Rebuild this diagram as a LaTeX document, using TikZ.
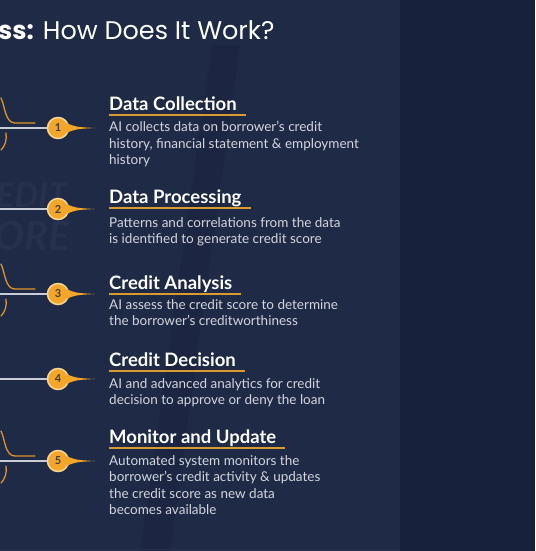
\documentclass[tikz,border=0pt]{standalone}
\usepackage{fontspec}
\setmainfont{Lato}
\newfontfamily\titlefont{Poppins}
\usetikzlibrary{calc}
\definecolor{navyleft}{HTML}{1F2A46}
\definecolor{navyright}{HTML}{18213C}
\definecolor{navyshade}{HTML}{1A2440}
\definecolor{navyfaint}{HTML}{27314E}
\definecolor{stepgold}{HTML}{F4A62A}
\definecolor{ringgold}{HTML}{FAD690}
\definecolor{rulegold}{HTML}{D99A30}
\definecolor{wireline}{HTML}{C9CDD8}
\definecolor{bodygray}{HTML}{D3D6DE}

\begin{document}
\begin{tikzpicture}[x=1pt, y=-1pt,
  marker/.style={circle, fill=stepgold, draw=ringgold, line width=1.5pt, minimum size=21pt, inner sep=0pt, text=black!75, font=\fontsize{11}{11}\selectfont\bfseries},
  heading/.style={anchor=base west, inner sep=0pt, text=white, font=\fontsize{18.5}{20}\selectfont\bfseries},
  body/.style={anchor=north west, inner sep=0pt, align=left, text=bodygray, font=\fontsize{13.5}{16.5}\selectfont, execute at begin node=\strut},
  wave/.style={draw=stepgold!90!black, line width=1.3pt, line cap=round}]
  \useasboundingbox (0,0) rectangle (535,551);
  \fill[navyleft] (0,0) rectangle (400,551);
  \fill[navyright] (400,0) rectangle (535,551);
  \fill[navyshade, opacity=0.6] (212,45) -- (240,45) -- (170,551) -- (140,551) -- cycle;
  \draw[navyfaint, line width=1pt] (0,549) -- (400,549);
  \node[navyfaint, anchor=base west, inner sep=0pt, font=\fontsize{34}{34}\selectfont\bfseries\itshape] (bgtop) at (-4,207) {EDIT};
  \node[navyfaint, anchor=base west, inner sep=0pt, font=\fontsize{40}{40}\selectfont\bfseries\itshape] (bgbot) at (-6,250) {ORE};
  % title
  \node[anchor=base west, inner sep=0pt, text=white, font=\titlefont\fontsize{25.5}{26}\selectfont] (title) at (-2,40) {\textbf{ss:} How Does It Work?};
  % steps
  \foreach \n/\cy/\hy/\by/\ttl/\txt in {
    1/128/110/131/{Data Collection}/{AI collects data on borrower's credit\\history, financial statement \& employment\\history},
    2/209/203/227/{Data Processing}/{Patterns and correlations from the data\\is identified to generate credit score},
    3/294/289/309/{Credit Analysis}/{AI assess the credit score to determine\\the borrower's creditworthiness},
    4/379/366/388/{Credit Decision}/{AI and advanced analytics for credit\\decision to approve or deny the loan},
    5/461/443/465/{Monitor and Update}/{Automated system monitors the\\borrower's credit activity \& updates\\the credit score as new data\\becomes available}} {
    \coordinate (in\n) at (0,\cy);
    \coordinate (tip\n) at (95,\cy);
    \node[marker] (m\n) at (58,\cy) {\n};
    \draw[wireline, line width=1.8pt] (in\n) -- (m\n);
    \fill[stepgold] ($(m\n.east)+(-3,-5)$) .. controls (76,\cy-1) .. (tip\n) .. controls (76,\cy+1) .. ($(m\n.east)+(-3,5)$) -- cycle;
    \node[heading] (h\n) at (109,\hy) {\ttl};
    \draw[rulegold, line width=1.6pt] ($(h\n.base west)+(0,5)$) -- ($(h\n.base east)+(9,5)$);
    \node[body] (b\n) at (109,\by-9.8) {\txt};
  }
  \foreach \n in {1,3,5} {
    \draw[wave] ($(in\n)+(1,-30)$) .. controls ($(in\n)+(5,-22)$) and ($(in\n)+(5,-5)$) .. ($(in\n)+(15,-5)$) -- ($(in\n)+(35,-5)$);
    \draw[wave] ($(in\n)+(6,5)$) .. controls ($(in\n)+(7,12)$) and ($(in\n)+(5,18)$) .. ($(in\n)+(1,22)$);
  }
\end{tikzpicture}
\end{document}
